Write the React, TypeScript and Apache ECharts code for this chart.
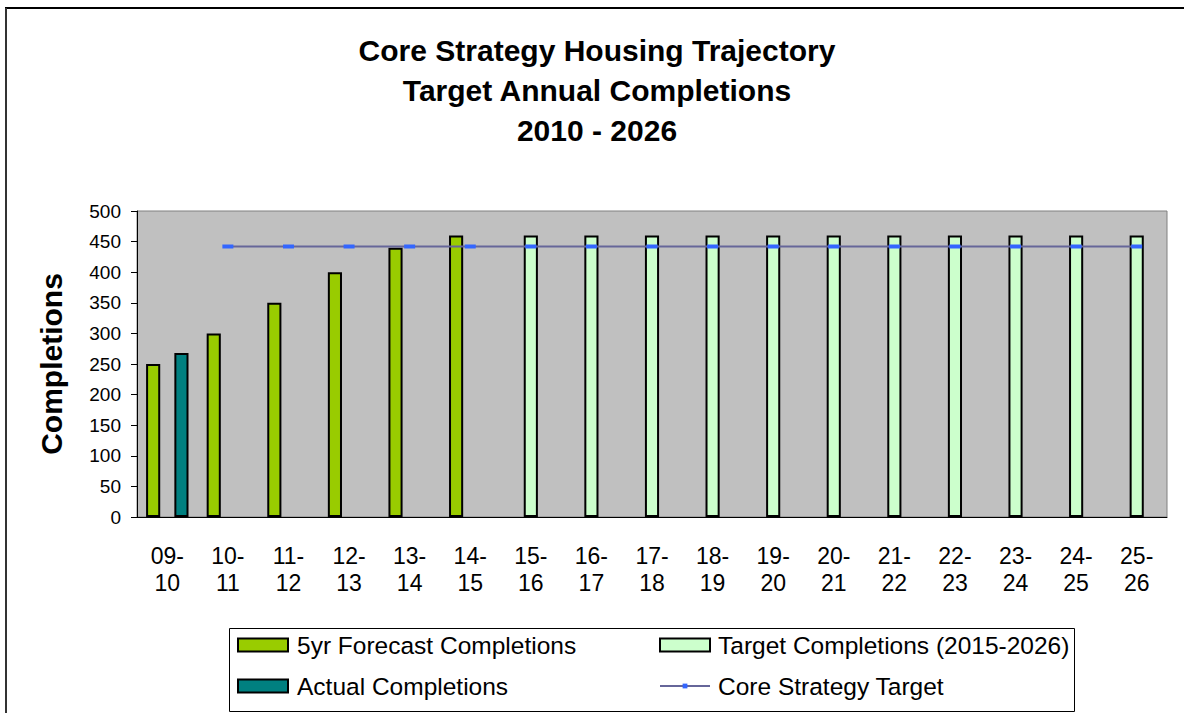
import React, { useEffect, useRef } from "react";
import * as echarts from "echarts";

const categories = [
  "09-\n10", "10-\n11", "11-\n12", "12-\n13", "13-\n14", "14-\n15", "15-\n16", "16-\n17",
  "17-\n18", "18-\n19", "19-\n20", "20-\n21", "21-\n22", "22-\n23", "23-\n24", "24-\n25", "25-\n26",
];
const forecast = [250, 300, 350, 400, 440, 460, null, null, null, null, null, null, null, null, null, null, null];
const actual = [268, null, null, null, null, null, null, null, null, null, null, null, null, null, null, null, null];
const target = [null, null, null, null, null, null, 460, 460, 460, 460, 460, 460, 460, 460, 460, 460, 460];
const coreTarget = [null, 442, 442, 442, 442, 442, 442, 442, 442, 442, 442, 442, 442, 442, 442, 442, 442];

const FONT = "Liberation Sans, Arial, sans-serif";

const legendText = { fontSize: 24.5, color: "#000", fontFamily: FONT, lineHeight: 26 };

export default function App() {
  const ref = useRef<HTMLDivElement>(null);
  useEffect(() => {
    if (!ref.current) return;
    const chart = echarts.init(ref.current, null, { renderer: "svg" });
    chart.setOption({
      animation: false,
      backgroundColor: "#ffffff",
      textStyle: { fontFamily: FONT },
      title: {
        text: "Core Strategy Housing Trajectory\nTarget Annual Completions\n2010 - 2026",
        left: 597,
        textAlign: "center",
        top: 30,
        padding: 0,
        textStyle: { fontSize: 30, fontWeight: "bold", color: "#000", lineHeight: 40, fontFamily: FONT },
      },
      grid: {
        left: 137, right: 17, top: 211, bottom: 196,
        show: true, backgroundColor: "#C0C0C0", borderColor: "#808080", borderWidth: 1,
      },
      legend: [
        {
          left: 237, top: 632, orient: "vertical", itemWidth: 50, itemHeight: 13, itemGap: 15, padding: 0,
          icon: "rect",
          data: ["5yr Forecast Completions", "Actual Completions"],
          textStyle: { ...legendText, padding: [0, 0, 0, 4] },
        },
        {
          left: 659, top: 632, orient: "vertical", itemWidth: 50, itemHeight: 13, itemGap: 15, padding: 0,
          icon: "rect",
          data: ["Target Completions (2015-2026)"],
          textStyle: { ...legendText, padding: [0, 0, 0, 3] },
        },
        {
          left: 659, top: 673, orient: "vertical", itemWidth: 50, itemHeight: 6, itemGap: 15, padding: 0,
          data: ["Core Strategy Target"],
          textStyle: { ...legendText, padding: [0, 0, 0, 3] },
        },
      ],
      xAxis: {
        type: "category",
        data: categories,
        axisLine: { lineStyle: { color: "#000", width: 1 } },
        axisTick: { length: 6, lineStyle: { color: "#000" } },
        axisLabel: { fontSize: 23, color: "#000", lineHeight: 27, margin: 25, interval: 0, fontFamily: FONT },
      },
      yAxis: {
        type: "value",
        min: 0, max: 500, interval: 50,
        name: "Completions",
        nameLocation: "middle",
        nameGap: 71,
        nameTextStyle: { fontSize: 30, fontWeight: "bold", color: "#000", fontFamily: FONT },
        axisLine: { show: true, lineStyle: { color: "#000", width: 1 } },
        axisTick: { show: true, length: 6, lineStyle: { color: "#000" } },
        axisLabel: { fontSize: 19, color: "#000", margin: 16, fontFamily: FONT },
        splitLine: { show: false },
      },
      series: [
        {
          name: "5yr Forecast Completions", type: "bar", data: forecast,
          barGap: "0%", barCategoryGap: "30%",
          itemStyle: { color: "#99CC00", borderColor: "#000", borderWidth: 2 },
        },
        {
          name: "Target Completions (2015-2026)", type: "bar", data: target,
          barGap: "0%", barCategoryGap: "30%",
          itemStyle: { color: "#CCFFCC", borderColor: "#000", borderWidth: 2 },
        },
        {
          name: "Actual Completions", type: "bar", data: actual,
          barGap: "0%", barCategoryGap: "30%",
          itemStyle: { color: "#008080", borderColor: "#000", borderWidth: 2 },
        },
        {
          name: "Core Strategy Target", type: "line", data: coreTarget,
          symbol: "rect", symbolSize: [11, 4], showSymbol: true,
          lineStyle: { color: "#666699", width: 2 },
          itemStyle: { color: "#3366FF", borderWidth: 0 },
          z: 5,
        },
      ],
      graphic: [
        { type: "rect", left: 227, top: 626, shape: { width: 845, height: 83 }, style: { fill: "none", stroke: "#000", lineWidth: 1 }, z: -1 },
        { type: "line", shape: { x1: 5, y1: 8, x2: 1184, y2: 8 }, style: { stroke: "#000", lineWidth: 2 } },
        { type: "line", shape: { x1: 6, y1: 8, x2: 6, y2: 713 }, style: { stroke: "#333", lineWidth: 2 } },
      ],
    });
    return () => chart.dispose();
  }, []);
  return <div ref={ref} style={{ position: "fixed", left: 0, top: 0, width: 1184, height: 713 }} />;
}
